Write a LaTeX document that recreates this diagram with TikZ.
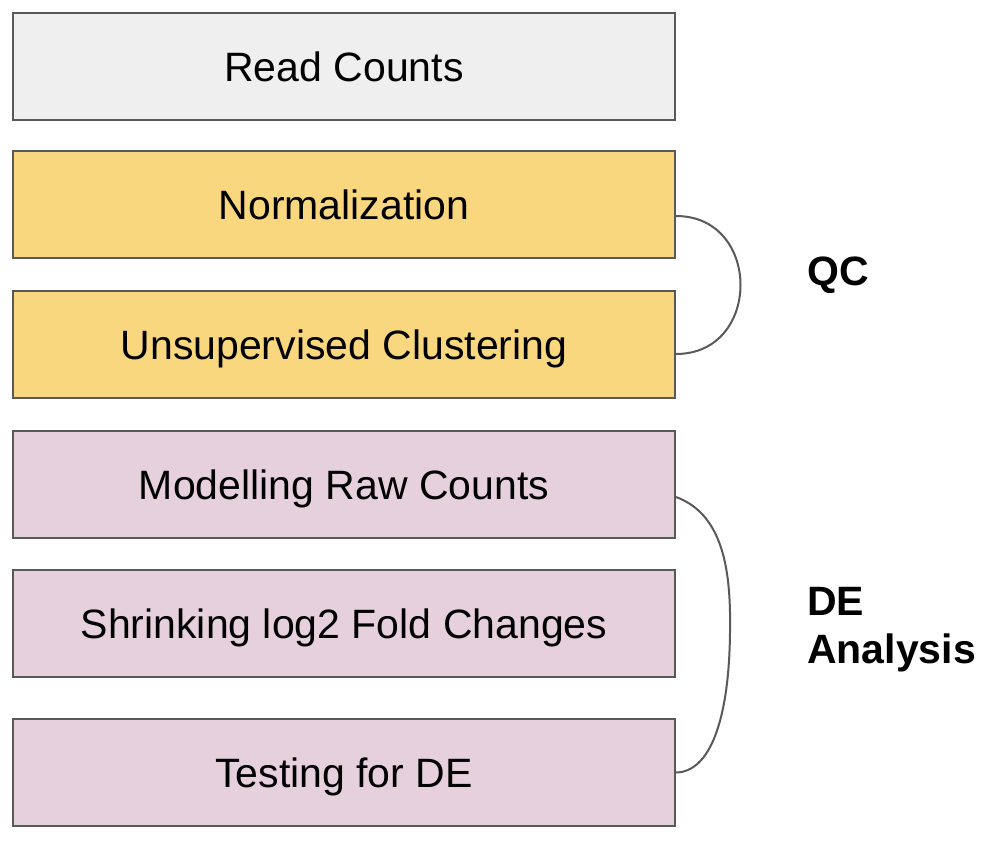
\documentclass[tikz,border=0pt]{standalone}
\usepackage{fontspec}
\setmainfont{Liberation Sans}
\definecolor{boxline}{HTML}{595959}
\definecolor{greyfill}{HTML}{EFEFEF}
\definecolor{yellowfill}{HTML}{F9D77E}
\definecolor{pinkfill}{HTML}{E6D0DC}
\begin{document}
\begin{tikzpicture}[x=1pt,y=-1pt,
  stepbox/.style={draw=boxline, line width=2pt, minimum width=662pt, minimum height=107pt, inner sep=0pt, text height=30pt, text depth=0pt, font=\fontsize{41}{49}\selectfont},
  brace/.style={draw=boxline, line width=2pt},
  grouplabel/.style={anchor=north west, inner sep=0pt, align=left, font=\bfseries\fontsize{41}{48}\selectfont}]
\useasboundingbox (0,0) rectangle (986,846);
\node[stepbox, fill=greyfill] (rc) at (344,66) {Read Counts};
\node[stepbox, fill=yellowfill] (norm) at (344,204.5) {Normalization};
\node[stepbox, fill=yellowfill] (clust) at (344,344.5) {Unsupervised Clustering};
\node[stepbox, fill=pinkfill] (model) at (344,484.5) {Modelling Raw Counts};
\node[stepbox, fill=pinkfill] (shrink) at (344,623.5) {Shrinking log2 Fold Changes};
\node[stepbox, fill=pinkfill] (test) at (344,772.5) {Testing for DE};
\coordinate (q1) at ([yshift=-11.5pt]norm.east);
\coordinate (q2) at ([yshift=-9.5pt]clust.east);
\draw[brace] (q1) .. controls (762,216) and (762,354) .. (q2);
\coordinate (d1) at ([yshift=-12.5pt]model.east);
\coordinate (d2) at (test.east);
\draw[brace] (d1) .. controls (725,515) and (731,575) .. (730,633) .. controls (729,720) and (710,772) .. (d2);
\node[grouplabel] (qc) at (807,257) {QC};
\node[grouplabel] (de) at (807,587) {DE\\Analysis};
\end{tikzpicture}
\end{document}
